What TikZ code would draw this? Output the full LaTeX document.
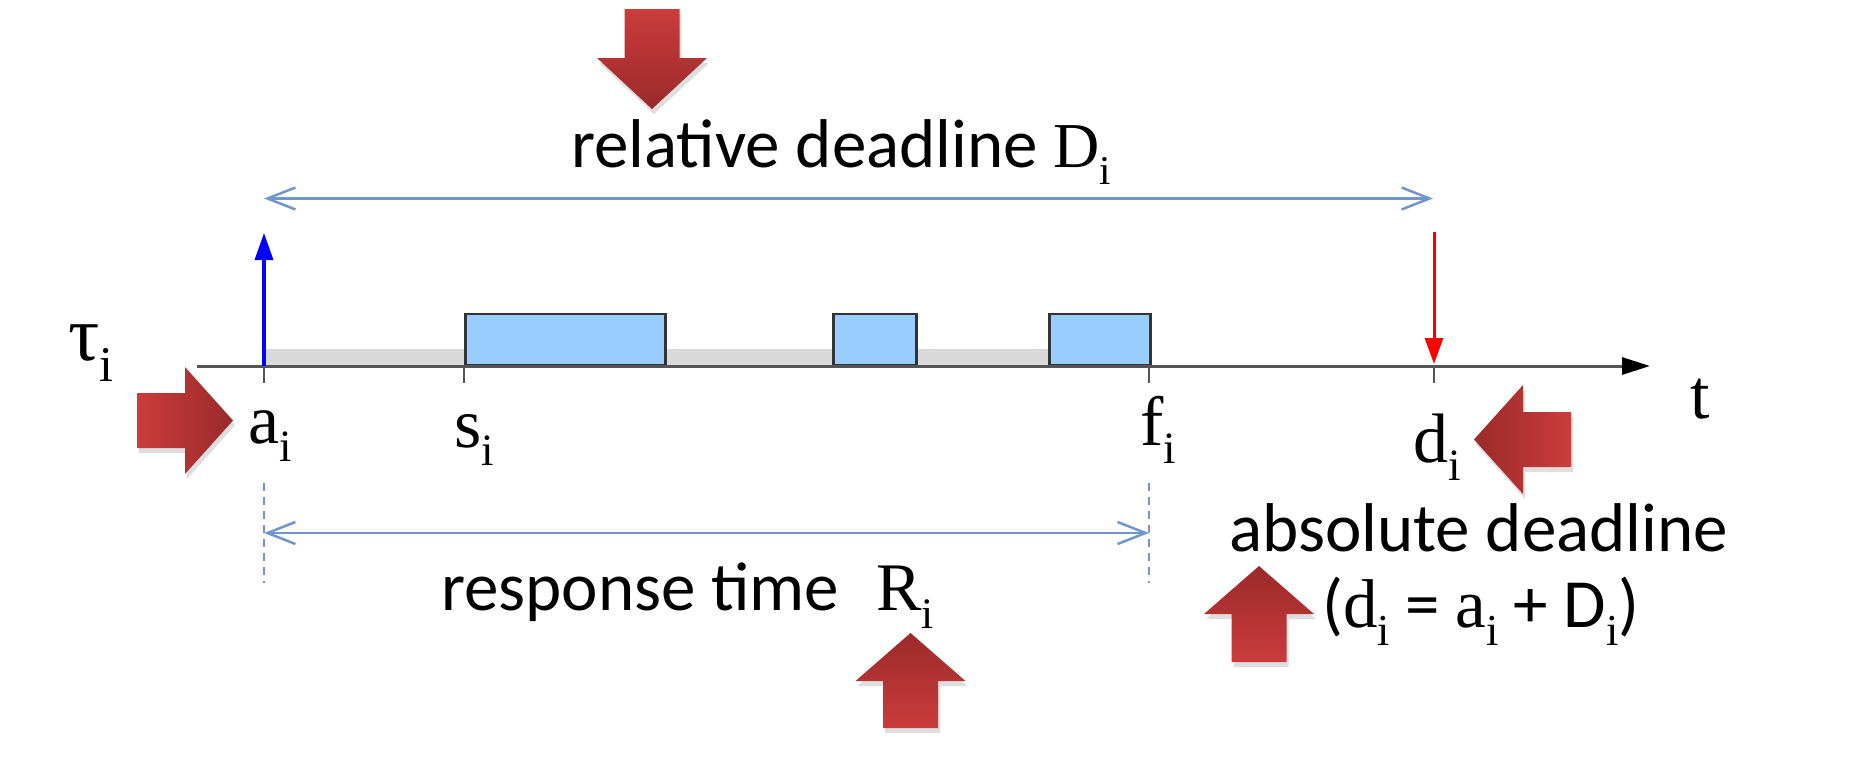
\documentclass[tikz,border=0pt]{standalone}
\usepackage{fontspec}
\setmainfont{Liberation Serif}
\setsansfont{Carlito}
\usepackage{graphicx}
\usetikzlibrary{arrows.meta}
\definecolor{boxblue}{HTML}{99CCFF}
\definecolor{linkblue}{HTML}{7196CC}
\definecolor{arrlight}{HTML}{CB3C3C}
\definecolor{arrdark}{HTML}{9B2A2B}
\definecolor{axisgray}{HTML}{555555}
\definecolor{bargray}{HTML}{D9D9D9}
\definecolor{boxedge}{HTML}{333333}
\newcommand\sbs[2]{#1\raisebox{-0.27em}{\scalebox{0.64}{#2}}}
\tikzset{
  sanslbl/.style={font=\sffamily\fontsize{69}{80}\selectfont, inner sep=0pt, anchor=base west},
  seriflbl/.style={font=\rmfamily\fontsize{70}{80}\selectfont, inner sep=0pt, anchor=base west},
  jobbox/.style={draw=boxedge, fill=boxblue, line width=2.5pt, inner sep=0pt, anchor=south west},
  tickline/.style={draw=axisgray, line width=2.5pt},
  spanarrow/.style={draw=linkblue, line width=2.5pt, {Straight Barb[length=28pt,width=22pt]}-{Straight Barb[length=28pt,width=22pt]}},
  guideline/.style={draw=linkblue, line width=2pt, dash pattern=on 8pt off 6pt},
  bigarrow/.style={preaction={fill=black, fill opacity=0.13, transform canvas={shift={(2pt,-5pt)}}}},
}
\begin{document}
\begin{tikzpicture}[x=1pt,y=-1pt]
\useasboundingbox (0,0) rectangle (1850,772);

% time axis points
\coordinate (o) at (197,366);
\coordinate (tend) at (1650,366);
\coordinate (a) at (264,366);
\coordinate (s) at (464,366);
\coordinate (f) at (1149,366);
\coordinate (d) at (1434,366);
\coordinate (atop) at (264,233);
\coordinate (dtop) at (1434,232);
\coordinate (Dl) at (264,198.5);
\coordinate (Dr) at (1433,198.5);
\coordinate (Rl) at (264,533);
\coordinate (Rr) at (1149,533);
\coordinate (ga1) at (264,483);
\coordinate (ga2) at (264,583);
\coordinate (gf1) at (1149,483);
\coordinate (gf2) at (1149,583);

% gray waiting bar
\fill[bargray] (264,349) rectangle (1048,366);

% execution boxes
\node[jobbox, minimum width=200pt, minimum height=51pt] (b1) at (464,366) {};
\node[jobbox, minimum width=83pt, minimum height=51pt] (b2) at (832,366) {};
\node[jobbox, minimum width=101pt, minimum height=51pt] (b3) at (1048,366) {};

% axis
\draw[axisgray, line width=3pt, -{Triangle[length=28pt,width=17pt,black]}] (o) -- (tend);

% ticks
\foreach \p in {a,s,f,d} \draw[tickline] (\p) -- ++(0,17);

% arrival and deadline arrows
\draw[blue, line width=3.5pt, -{Triangle[length=27pt,width=18pt]}] (a) -- (atop);
\draw[red, line width=3pt, -{Triangle[length=26pt,width=18pt]}, shorten >=2pt] (dtop) -- (d);

% span arrows
\draw[spanarrow] (Dl) -- (Dr);
\draw[spanarrow] (Rl) -- (Rr);
\draw[guideline] (ga1) -- (ga2);
\draw[guideline] (gf1) -- (gf2);

% labels
\node[seriflbl, font=\rmfamily\fontsize{78}{80}\selectfont] (tau) at (68,360) {\sbs{τ}{i}};
\node[seriflbl] (la) at (248,443) {\sbs{a}{i}};
\node[seriflbl] (ls) at (454,447) {\sbs{s}{i}};
\node[seriflbl] (lf) at (1140,445) {\sbs{f}{i}};
\node[seriflbl] (ld) at (1413,462) {\sbs{d}{i}};
\node[seriflbl] (lt) at (1690,418) {t};
\node[sanslbl] (rel) at (571,167) {relative deadline {\rmfamily\fontsize{64}{70}\selectfont\sbs{D}{i}}};
\node[sanslbl] (resp) at (441,610) {response time\hspace{37pt}{\rmfamily\fontsize{68}{70}\selectfont\sbs{R}{i}}};
\node[sanslbl] (abs) at (1229,551) {absolute deadline};
\node[sanslbl] (form) at (1322,627) {({\rmfamily\sbs{d}{i}} = {\rmfamily\sbs{a}{i}} + D{\rmfamily\sbs{}{i}})};

% big red pointer arrows
\path[bigarrow, top color=arrlight, bottom color=arrdark]
  (624.5,9) -- (679.5,9) -- (679.5,58) -- (707,58) -- (652,109) -- (597,58) -- (624.5,58) -- cycle;
\path[bigarrow, left color=arrlight, right color=arrdark]
  (137,393) -- (185,393) -- (185,367) -- (233,420.5) -- (185,474) -- (185,448) -- (137,448) -- cycle;
\path[bigarrow, left color=arrdark, right color=arrlight]
  (1571,412) -- (1523,412) -- (1523,385) -- (1474,439.5) -- (1523,494) -- (1523,467) -- (1571,467) -- cycle;
\path[bigarrow, top color=arrdark, bottom color=arrlight]
  (883,728) -- (938,728) -- (938,681) -- (965.5,681) -- (910.5,633) -- (855.5,681) -- (883,681) -- cycle;
\path[bigarrow, top color=arrdark, bottom color=arrlight]
  (1231.5,662) -- (1286.5,662) -- (1286.5,614) -- (1314,614) -- (1259,566) -- (1204,614) -- (1231.5,614) -- cycle;
\end{tikzpicture}
\end{document}
